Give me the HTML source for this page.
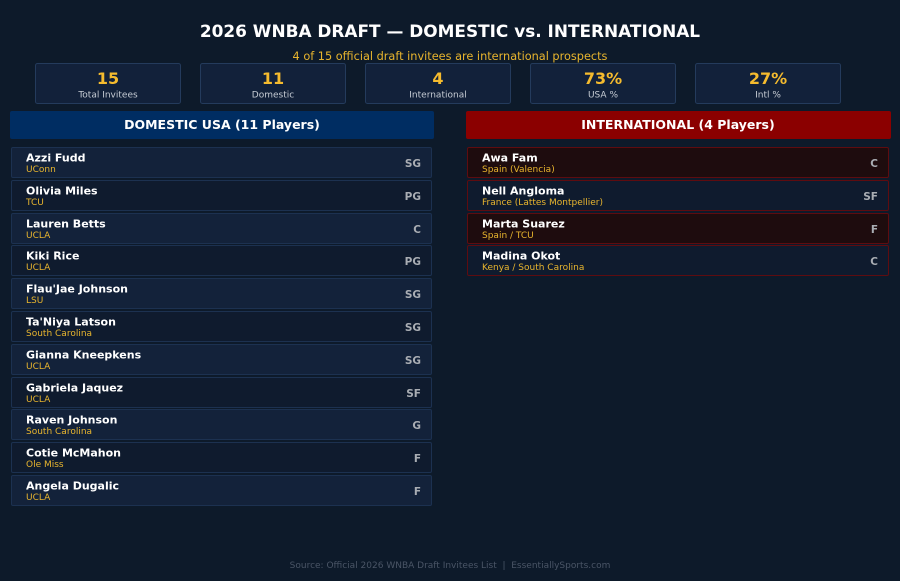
<!DOCTYPE html>
<html><head><meta charset="utf-8"><style>
html,body{margin:0;padding:0;background:#0d1a2a;}
svg{display:block;font-family:"DejaVu Sans","Liberation Sans",sans-serif;}
.n{font-size:11px;font-weight:bold;fill:#ffffff}
.s{font-size:9px;fill:#e8b52e}
.p{font-size:10.5px;font-weight:bold;fill:#a9adb3}
.v{font-size:16px;font-weight:bold;fill:#f5bb2e}
.l{font-size:9px;fill:#c6ccd4}
</style></head><body>
<svg width="900" height="581" viewBox="0 0 900 581" xmlns="http://www.w3.org/2000/svg">
<rect width="900" height="581" fill="#0d1a2a"/>
<text x="450" y="37" text-anchor="middle" font-size="16.9" font-weight="bold" fill="#ffffff">2026 WNBA DRAFT — DOMESTIC vs. INTERNATIONAL</text>
<text x="450" y="60" text-anchor="middle" font-size="11.3" fill="#e8b52e">4 of 15 official draft invitees are international prospects</text>

<g fill="#12213a" stroke="#243b5c" stroke-width="1">
<rect x="35.5" y="63.5" width="145" height="40" rx="2"/>
<rect x="200.5" y="63.5" width="145" height="40" rx="2"/>
<rect x="365.5" y="63.5" width="145" height="40" rx="2"/>
<rect x="530.5" y="63.5" width="145" height="40" rx="2"/>
<rect x="695.5" y="63.5" width="145" height="40" rx="2"/>
</g>
<text class="v" x="108" y="84" text-anchor="middle">15</text><text class="l" x="108" y="97.5" text-anchor="middle">Total Invitees</text>
<text class="v" x="273" y="84" text-anchor="middle">11</text><text class="l" x="273" y="97.5" text-anchor="middle">Domestic</text>
<text class="v" x="438" y="84" text-anchor="middle">4</text><text class="l" x="438" y="97.5" text-anchor="middle">International</text>
<text class="v" x="603" y="84" text-anchor="middle">73%</text><text class="l" x="603" y="97.5" text-anchor="middle">USA %</text>
<text class="v" x="768" y="84" text-anchor="middle">27%</text><text class="l" x="768" y="97.5" text-anchor="middle">Intl %</text>

<rect x="10" y="111" width="424" height="28" rx="2" fill="#002d62"/>
<text x="222" y="129" text-anchor="middle" font-size="12.5" font-weight="bold" fill="#ffffff">DOMESTIC USA (11 Players)</text>
<rect x="466" y="111" width="425" height="28" rx="2" fill="#8b0000"/>
<text x="678" y="129" text-anchor="middle" font-size="12.5" font-weight="bold" fill="#ffffff">INTERNATIONAL (4 Players)</text>

<g stroke="#1c3150" stroke-width="1">
<rect x="11.5" y="147.5" width="420" height="30" rx="1.5" fill="#13223a"/>
<rect x="11.5" y="180.5" width="420" height="30" rx="1.5" fill="#0f1b2e"/>
<rect x="11.5" y="213.5" width="420" height="30" rx="1.5" fill="#13223a"/>
<rect x="11.5" y="245.5" width="420" height="30" rx="1.5" fill="#0f1b2e"/>
<rect x="11.5" y="278.5" width="420" height="30" rx="1.5" fill="#13223a"/>
<rect x="11.5" y="311.5" width="420" height="30" rx="1.5" fill="#0f1b2e"/>
<rect x="11.5" y="344.5" width="420" height="30" rx="1.5" fill="#13223a"/>
<rect x="11.5" y="377.5" width="420" height="30" rx="1.5" fill="#0f1b2e"/>
<rect x="11.5" y="409.5" width="420" height="30" rx="1.5" fill="#13223a"/>
<rect x="11.5" y="442.5" width="420" height="30" rx="1.5" fill="#0f1b2e"/>
<rect x="11.5" y="475.5" width="420" height="30" rx="1.5" fill="#13223a"/>
</g>
<g stroke="#5e0c10" stroke-width="1">
<rect x="467.5" y="147.5" width="421" height="30" rx="1.5" fill="#1e0c0e"/>
<rect x="467.5" y="180.5" width="421" height="30" rx="1.5" fill="#0f1b2e"/>
<rect x="467.5" y="213.5" width="421" height="30" rx="1.5" fill="#1e0c0e"/>
<rect x="467.5" y="245.5" width="421" height="30" rx="1.5" fill="#0f1b2e"/>
</g>

<text class="n" x="26" y="161.5">Azzi Fudd</text><text class="s" x="26" y="172">UConn</text><text class="p" x="421" y="167" text-anchor="end">SG</text>
<text class="n" x="26" y="194.5">Olivia Miles</text><text class="s" x="26" y="205">TCU</text><text class="p" x="421" y="200" text-anchor="end">PG</text>
<text class="n" x="26" y="227.5">Lauren Betts</text><text class="s" x="26" y="238">UCLA</text><text class="p" x="421" y="233" text-anchor="end">C</text>
<text class="n" x="26" y="259.5">Kiki Rice</text><text class="s" x="26" y="270">UCLA</text><text class="p" x="421" y="265" text-anchor="end">PG</text>
<text class="n" x="26" y="292.5">Flau'Jae Johnson</text><text class="s" x="26" y="303">LSU</text><text class="p" x="421" y="298" text-anchor="end">SG</text>
<text class="n" x="26" y="325.5">Ta'Niya Latson</text><text class="s" x="26" y="336">South Carolina</text><text class="p" x="421" y="331" text-anchor="end">SG</text>
<text class="n" x="26" y="358.5">Gianna Kneepkens</text><text class="s" x="26" y="369">UCLA</text><text class="p" x="421" y="364" text-anchor="end">SG</text>
<text class="n" x="26" y="391.5">Gabriela Jaquez</text><text class="s" x="26" y="402">UCLA</text><text class="p" x="421" y="397" text-anchor="end">SF</text>
<text class="n" x="26" y="423.5">Raven Johnson</text><text class="s" x="26" y="434">South Carolina</text><text class="p" x="421" y="429" text-anchor="end">G</text>
<text class="n" x="26" y="456.5">Cotie McMahon</text><text class="s" x="26" y="467">Ole Miss</text><text class="p" x="421" y="462" text-anchor="end">F</text>
<text class="n" x="26" y="489.5">Angela Dugalic</text><text class="s" x="26" y="500">UCLA</text><text class="p" x="421" y="495" text-anchor="end">F</text>

<text class="n" x="482" y="161.5">Awa Fam</text><text class="s" x="482" y="172">Spain (Valencia)</text><text class="p" x="878" y="167" text-anchor="end">C</text>
<text class="n" x="482" y="194.5">Nell Angloma</text><text class="s" x="482" y="205">France (Lattes Montpellier)</text><text class="p" x="878" y="200" text-anchor="end">SF</text>
<text class="n" x="482" y="227.5">Marta Suarez</text><text class="s" x="482" y="238">Spain / TCU</text><text class="p" x="878" y="233" text-anchor="end">F</text>
<text class="n" x="482" y="259.5">Madina Okot</text><text class="s" x="482" y="270">Kenya / South Carolina</text><text class="p" x="878" y="265" text-anchor="end">C</text>

<text x="450" y="568" text-anchor="middle" font-size="9" fill="#4a5566" xml:space="preserve">Source: Official 2026 WNBA Draft Invitees List  |  EssentiallySports.com</text>
</svg>
</body></html>
